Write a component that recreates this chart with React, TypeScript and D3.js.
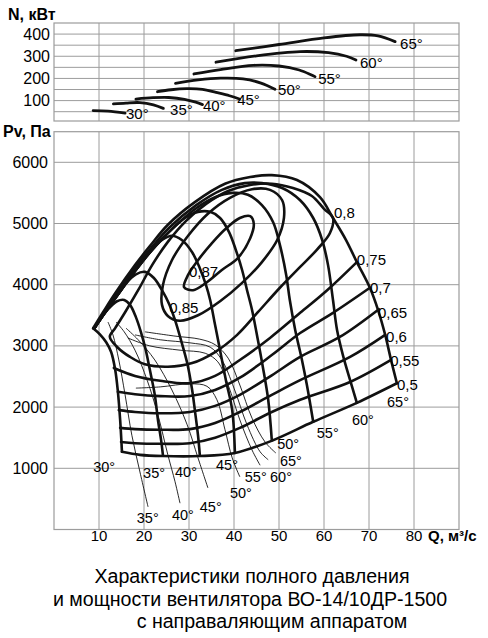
import React from 'react';
import * as d3 from 'd3';

const W = 488, H = 638;
const FONT = '"Liberation Sans", Arial, Helvetica, sans-serif';

// ---- axes ----
const qTicks = [10, 20, 30, 40, 50, 60, 70, 80];
const pTicks = [1000, 2000, 3000, 4000, 5000, 6000];
const nTicks = [100, 200, 300, 400];
const nGrid = [50, 100, 150, 200, 250, 300, 350, 400];

// ---- power curves N(Q), kW ----
const powerLabels = ['30°', '35°', '40°', '45°', '50°', '55°', '60°', '65°'];
const power30 = [[8.7, 55], [12.0, 53], [15.8, 44]];
const power35 = [[13.2, 85], [16, 89], [19.1, 91], [22.1, 81], [24.3, 65]];
const power40 = [[18.2, 107], [22, 113], [25.5, 114], [29, 106], [31.5, 93], [33, 82]];
const power45 = [[23, 140], [26, 149], [29.5, 154], [33, 151], [36, 137], [39, 122], [41.2, 107]];
const power50 = [[27, 178], [32, 193], [37, 201], [42, 198], [46, 179], [49.1, 151]];
const power55 = [[31.1, 220], [37, 240], [44.3, 259], [50, 256], [54.5, 238], [58, 208]];
const power60 = [[36, 273], [45, 302], [54.7, 321], [61, 316], [65, 300], [67.1, 283]];
const power65 = [[40.4, 325], [50, 353], [60, 383], [68, 397], [72, 392], [75.8, 366]];
const powerLabelPos = [[16.0, 17], [25.8, 35], [33.1, 53], [40.7, 80], [49.8, 125], [58.7, 175], [68.0, 247], [76.9, 333]];

// ---- pressure curves Pv(Q), Pa (thick) ----
const press30 = [[8.7, 3290], [10.2, 3190], [11.6, 3060], [12.7, 2900], [13.6, 2610], [14.2, 2250], [14.7, 1790], [15.1, 1270]];
const press35 = [[8.9, 3280], [11.3, 3540], [12.7, 3650], [14.0, 3730], [15.6, 3750], [16.9, 3670], [18.2, 3470], [19.3, 3230], [20.4, 2930], [21.3, 2610], [22.4, 2200], [23.1, 1790], [23.8, 1460], [24.2, 1220]];
const press40 = [[8.9, 3280], [11.3, 3540], [14.0, 3820], [16.2, 4040], [18.2, 4170], [20.2, 4210], [22.2, 4110], [24.0, 3910], [25.6, 3680], [26.9, 3420], [28.2, 3100], [29.6, 2720], [30.7, 2280], [31.3, 1950], [32.0, 1540], [32.4, 1220]];
const press45 = [[8.9, 3280], [11.3, 3540], [14.0, 3820], [18.4, 4260], [21.8, 4570], [24.0, 4730], [26.2, 4800], [28.4, 4730], [30.7, 4530], [32.4, 4270], [33.8, 3990], [34.7, 3750], [35.8, 3340], [36.9, 2930], [38.2, 2440], [39.6, 1950], [40.2, 1250]];
const press50 = [[8.9, 3280], [11.3, 3540], [14.0, 3820], [18.4, 4260], [21.8, 4570], [25.8, 4880], [29.1, 5090], [32.0, 5190], [34.7, 5190], [36.9, 5090], [38.9, 4860], [40.4, 4570], [41.8, 4240], [42.9, 3910], [44.0, 3590], [45.3, 3100], [46.4, 2660], [47.6, 2120], [48.4, 1460]];
const press55 = [[8.9, 3280], [11.3, 3540], [14.0, 3820], [18.4, 4260], [21.8, 4570], [25.8, 4880], [31.6, 5250], [35.8, 5430], [39.6, 5500], [43.1, 5470], [46.2, 5300], [48.7, 5020], [50.2, 4650], [51.6, 4160], [52.4, 3750], [53.6, 3260], [55.1, 2770], [56.2, 2360], [57.6, 1760]];
const press60 = [[8.9, 3290], [11.1, 3540], [13.8, 3830], [18.2, 4290], [21.6, 4600], [25.6, 4930], [31.6, 5300], [37.3, 5550], [42.4, 5660], [46.2, 5660], [50.7, 5580], [54.7, 5380], [57.6, 5090], [59.6, 4730], [60.9, 4320], [62.0, 3750], [62.9, 3260], [64.2, 2850], [65.8, 2440], [67.3, 2070]];
const press65 = [[8.7, 3290], [10.9, 3550], [13.6, 3860], [18.0, 4320], [21.3, 4630], [25.3, 4980], [31.3, 5350], [38.0, 5650], [43.6, 5760], [48.4, 5790], [54.0, 5710], [59.1, 5430], [62.0, 5090], [64.9, 4730], [67.3, 4370], [70.2, 3950], [72.0, 3590], [73.6, 3180], [74.9, 2770], [76.2, 2390]];
const pressLabels = ['30°', '35°', '40°', '45°', '50°', '55°', '60°', '65°'];
const pressLabelPos = [[8.7, 940], [19.8, 840], [26.9, 860], [36.0, 970], [49.6, 1310], [58.4, 1500], [66.2, 1710], [74.0, 2000]];

// ---- thin branches ----
const thin35 = [[12.0, 3390], [13.1, 3180], [14.4, 2770], [15.8, 2200], [17.3, 1540], [19.1, 940], [20.9, 370]];
const thin40 = [[13.8, 3390], [15.6, 3230], [18.0, 2930], [20.7, 2440], [23.1, 1870], [25.3, 1220], [26.9, 780], [28.0, 430]];
const thin45 = [[16.0, 3290], [18.7, 3100], [22.4, 2770], [26.2, 2280], [29.6, 1710], [32.0, 1170], [34.2, 680]];
const thin50 = [[18.2, 2310], [23.6, 2330], [30.2, 2380], [34.0, 2340], [36.2, 2120], [38.0, 1630], [39.6, 1170], [41.3, 860]];
const thin55 = [[16.4, 3130], [21.3, 3000], [28.0, 2930], [33.6, 2880], [36.4, 2740], [38.7, 2360], [41.3, 1790], [44.0, 1300], [45.8, 1050]];
const thin60 = [[18.0, 3180], [23.6, 3100], [30.2, 3050], [34.7, 2980], [37.3, 2770], [40.0, 2310], [42.9, 1710], [45.8, 1270], [47.6, 1140]];
const thin65 = [[20.2, 3230], [26.9, 3160], [32.4, 3110], [35.8, 3020], [38.7, 2800], [41.3, 2360], [44.0, 1820], [46.9, 1430], [49.3, 1250]];
const thinLabels = ['35°', '40°', '45°', '50°', '55°', '60°', '65°'];
const thinLabelPos = [[18.4, 110], [26.2, 160], [32.4, 290], [39.1, 510], [42.4, 780], [48.0, 780], [50.2, 1040]];

// ---- efficiency contours ----
const eta087 = [[28.9, 3960], [29.8, 4160], [32.0, 4400], [35.1, 4680], [38.4, 4930], [41.3, 5090], [43.6, 5120], [44.4, 4990], [43.6, 4760], [40.9, 4440], [37.3, 4240], [33.8, 4030], [30.9, 3910]];
const eta085 = [[24.0, 3670], [24.2, 3990], [26.2, 4400], [29.8, 4800], [34.2, 5160], [39.1, 5420], [44.0, 5560], [48.0, 5550], [50.7, 5380], [51.1, 5090], [49.6, 4730], [46.2, 4370], [41.8, 4030], [36.9, 3730], [32.0, 3500], [28.0, 3410], [25.3, 3490]];
const eta080 = [[12.4, 3150], [14.2, 2970], [16.9, 2820], [20.2, 2700], [25.3, 2660], [30.7, 2720], [35.8, 2900], [40.7, 3180], [45.3, 3550], [50.2, 3950], [54.7, 4290], [58.4, 4570], [61.3, 4840], [62.0, 5090], [60.0, 5240], [57.3, 5450], [53.1, 5580], [48.4, 5650], [43.6, 5630], [38.7, 5530], [33.8, 5320], [29.3, 5040], [25.3, 4700], [21.8, 4320], [18.7, 3910], [15.8, 3550], [13.6, 3290]];
const eta075 = [[13.3, 2640], [18.0, 2510], [23.6, 2430], [30.2, 2390], [35.8, 2510], [41.3, 2770], [48.0, 3130], [54.7, 3540], [60.7, 3910], [67.3, 4370]];
const eta070 = [[14.2, 2250], [18.0, 2210], [23.6, 2180], [30.2, 2180], [35.8, 2280], [41.3, 2480], [48.4, 2850], [54.7, 3210], [62.0, 3540], [70.2, 3950]];
const eta065 = [[14.4, 1950], [18.0, 1920], [23.6, 1900], [30.2, 1920], [35.8, 2020], [41.3, 2200], [48.4, 2520], [54.7, 2820], [63.6, 3150], [72.2, 3600]];
const eta060 = [[14.7, 1660], [18.0, 1640], [23.6, 1630], [30.2, 1640], [35.8, 1740], [41.3, 1920], [48.4, 2200], [54.7, 2440], [65.8, 2820], [73.6, 3180]];
const eta055 = [[14.9, 1430], [18.0, 1410], [23.6, 1400], [30.2, 1410], [35.8, 1500], [41.3, 1660], [48.4, 1920], [54.7, 2120], [65.8, 2410], [74.9, 2770]];
const eta050 = [[15.1, 1270], [19.1, 1220], [24.2, 1200], [32.4, 1200], [40.2, 1250], [48.4, 1450], [57.6, 1760], [67.3, 2070], [76.2, 2390]];
const etaLabels = ['0,87', '0,85', '0,8', '0,75', '0,7', '0,65', '0,6', '0,55', '0,5'];
const etaLabelPos = [[30.0, 4130], [25.6, 3540], [62.2, 5090], [67.3, 4320], [70.2, 3860], [72.0, 3460], [73.8, 3060], [74.7, 2670], [76.2, 2280]];

const titleLines = ['Характеристики полного давления', 'и мощности вентилятора ВО-14/10ДР-1500', 'с направаляющим аппаратом'];

export default function App() {
  const x = d3.scaleLinear().domain([0, 90]).range([54, 459]);
  const yP = d3.scaleLinear().domain([0, 6500]).range([529.5, 131.7]);
  const yN = d3.scaleLinear().domain([8, 450]).range([121, 23]);

  const lineP = d3.line<number[]>().x(d => x(d[0])).y(d => yP(d[1])).curve(d3.curveCatmullRom.alpha(0.5));
  const loopP = d3.line<number[]>().x(d => x(d[0])).y(d => yP(d[1])).curve(d3.curveCatmullRomClosed.alpha(0.5));
  const lineN = d3.line<number[]>().x(d => x(d[0])).y(d => yN(d[1])).curve(d3.curveCatmullRom.alpha(0.5));

  const grid = '#9c9c9c';
  const powers = [power30, power35, power40, power45, power50, power55, power60, power65];
  const presses = [press30, press35, press40, press45, press50, press55, press60, press65];
  const thins = [thin35, thin40, thin45, thin50, thin55, thin60, thin65];
  const etaOpen = [eta075, eta070, eta065, eta060, eta055, eta050];
  const etaLoops = [eta087, eta085, eta080];

  const x0 = x(0), x1 = x(90);

  return (
    <svg width={W} height={H} style={{ position: 'absolute', left: 0, top: 0, background: '#fff' }} fontFamily={FONT}>
      <rect x={0} y={0} width={W} height={H} fill="#fff" />
      {/* top panel grid */}
      {nGrid.map(v => <line key={'ng' + v} x1={x0} x2={x1} y1={yN(v)} y2={yN(v)} stroke={grid} strokeWidth={1} />)}
      {qTicks.map(v => <line key={'nv' + v} x1={x(v)} x2={x(v)} y1={yN(450)} y2={yN(8)} stroke={grid} strokeWidth={1} />)}
      <rect x={x0} y={yN(450)} width={x1 - x0} height={yN(8) - yN(450)} fill="none" stroke={grid} strokeWidth={1.2} />
      {/* bottom panel grid */}
      {pTicks.map(v => <line key={'pg' + v} x1={x0} x2={x1} y1={yP(v)} y2={yP(v)} stroke={grid} strokeWidth={1} />)}
      {qTicks.map(v => <line key={'pv' + v} x1={x(v)} x2={x(v)} y1={yP(6500)} y2={yP(0)} stroke={grid} strokeWidth={1} />)}
      <rect x={x0} y={yP(6500)} width={x1 - x0} height={yP(0) - yP(6500)} fill="none" stroke={grid} strokeWidth={1.2} />

      {/* tick labels */}
      {nTicks.map(v => <text key={'nt' + v} x={50} y={yN(v) + 5.5} fontSize={16} textAnchor="end">{v}</text>)}
      {pTicks.map(v => <text key={'pt' + v} x={48} y={yP(v) + 5.5} fontSize={16} textAnchor="end">{v}</text>)}
      {qTicks.map(v => <text key={'qt' + v} x={x(v)} y={541} fontSize={15} textAnchor="middle">{v}</text>)}
      <text x={8} y={20} fontSize={16} fontWeight="bold">N, кВт</text>
      <text x={3} y={137} fontSize={16} fontWeight="bold">Pv, Па</text>
      <text x={428} y={541} fontSize={15} fontWeight="bold">Q, м³/с</text>

      {/* power curves */}
      {powers.map((d, i) => <path key={'pw' + i} d={lineN(d) || ''} fill="none" stroke="#111" strokeWidth={2.8} strokeLinecap="round" />)}
      {powerLabels.map((t, i) => <text key={'pl' + i} x={x(powerLabelPos[i][0])} y={yN(powerLabelPos[i][1])} fontSize={15}>{t}</text>)}

      {/* thin branches */}
      {thins.map((d, i) => <path key={'th' + i} d={lineP(d) || ''} fill="none" stroke="#111" strokeWidth={0.9} />)}

      {/* efficiency contours */}
      {etaOpen.map((d, i) => <path key={'eo' + i} d={lineP(d) || ''} fill="none" stroke="#111" strokeWidth={2.6} strokeLinecap="round" />)}
      {etaLoops.map((d, i) => <path key={'el' + i} d={loopP(d) || ''} fill="none" stroke="#111" strokeWidth={2.6} />)}

      {/* pressure curves */}
      {presses.map((d, i) => <path key={'pr' + i} d={lineP(d) || ''} fill="none" stroke="#111" strokeWidth={2.6} strokeLinecap="round" strokeLinejoin="round" />)}

      {/* labels */}
      {pressLabels.map((t, i) => <text key={'prl' + i} x={x(pressLabelPos[i][0])} y={yP(pressLabelPos[i][1])} fontSize={14.5}>{t}</text>)}
      {thinLabels.map((t, i) => <text key={'thl' + i} x={x(thinLabelPos[i][0])} y={yP(thinLabelPos[i][1])} fontSize={14.5}>{t}</text>)}
      {etaLabels.map((t, i) => <text key={'etl' + i} x={x(etaLabelPos[i][0])} y={yP(etaLabelPos[i][1])} fontSize={15}>{t}</text>)}

      {/* title */}
      {titleLines.map((t, i) => (
        <text key={'tt' + i} x={[252, 250, 272][i]} y={[583, 606, 628][i]} fontSize={19.6} textAnchor="middle">{t}</text>
      ))}
    </svg>
  );
}
